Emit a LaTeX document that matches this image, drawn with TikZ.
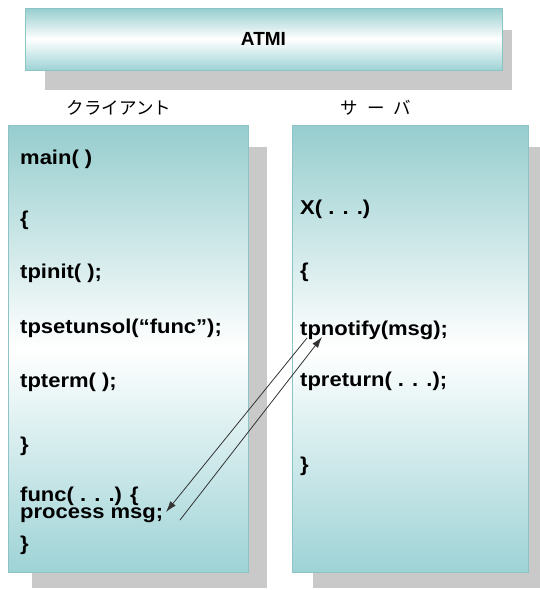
\documentclass[tikz,border=0pt]{standalone}
\usepackage{fontspec}
\setmainfont{Liberation Sans}
\newfontfamily\codefont{Liberation Sans}[FakeStretch=1.1]
\newfontfamily\jpfont{Noto Sans CJK JP}
\usetikzlibrary{arrows.meta}
\definecolor{tealtop}{HTML}{96CDCE}
\definecolor{tealbot}{HTML}{9ED3D6}
\definecolor{tealedge}{HTML}{8CC4C6}
\definecolor{shadowgrey}{HTML}{C9C9C9}
\definecolor{arrowgrey}{HTML}{333333}

\begin{document}
\begin{tikzpicture}[x=1pt, y=-1pt,
  panel/.style={draw=tealedge, line width=0.6pt, top color=tealtop, bottom color=tealbot, middle color=white, anchor=north west, inner sep=0pt, outer sep=0pt},
  dropshadow/.style={fill=shadowgrey, draw=none},
  code/.style={anchor=base west, inner sep=0pt, font=\fontsize{20}{22}\selectfont\codefont\bfseries},
  jp/.style={font=\fontsize{17.5}{20}\selectfont\jpfont},
  msg/.style={-{Latex[length=11pt,width=7pt]}, draw=arrowgrey, line width=0.8pt},
]
\useasboundingbox (0,0) rectangle (540,590);

% Shadows
\fill[dropshadow] (45,30) rectangle (512,90);
\fill[dropshadow] (32,147) rectangle (267,588);
\fill[dropshadow] (313,147) rectangle (540,588);

% ATMI bar
\node[panel, anchor=center, minimum width=477pt, minimum height=62pt, font=\fontsize{19}{21}\selectfont\bfseries] (atmi) at (263.5,39) {ATMI};

% Client and server panels
\node[panel, minimum width=240pt, minimum height=447pt] (client) at (8,125) {};
\node[panel, minimum width=236pt, minimum height=447pt] (server) at (292,125) {};
\node[jp] (clientlbl) at (119,108) {クライアント};
\node[jp] (serverlbl) at (376,108) {サ\hspace{9pt}ー\hspace{9pt}バ};

% Client code
\node[code] (cmain) at (20,164) {main( )};
\node[code] (copen) at (20,225) {\{};
\node[code] (cinit) at (20,278) {tpinit( );};
\node[code] (cunsol) at (20,333) {tpsetunsol(“func”);};
\node[code] (cterm) at (20,387) {tpterm( );};
\node[code] (cclose) at (20,451) {\}};
\node[code] (cfunc) at (20,501) {func( . . .) \{};
\node[code] (cproc) at (20,518) {process msg;};
\node[code] (cend) at (20,550) {\}};

% Server code
\node[code] (sx) at (300,214) {X( . . .)};
\node[code] (sopen) at (300,277) {\{};
\node[code] (snotify) at (300,335) {tpnotify(msg);};
\node[code] (sreturn) at (300,386) {tpreturn( . . .);};
\node[code] (sclose) at (300,471) {\}};

% Notification arrows
\coordinate (nfyout) at (307,338);
\coordinate (procin) at (166,512);
\coordinate (procout) at (180,520);
\coordinate (nfyin) at (322,337);
\draw[msg] (nfyout) -- (procin);
\draw[msg] (procout) -- (nfyin);
\end{tikzpicture}
\end{document}
